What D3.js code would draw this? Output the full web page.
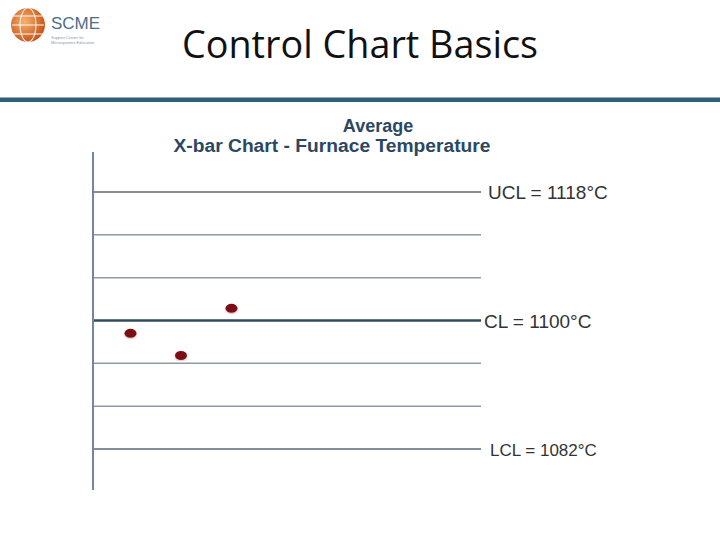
<!DOCTYPE html>
<html>
  <head>
    <meta charset="utf-8">
    <title>Control Chart Basics</title>
    <style>
      html, body { margin: 0; padding: 0; background: #fff; }
      svg { display: block; }
    </style>
  </head>
  <body>
    <svg id="chart" width="720" height="540"></svg>
    <script src="https://d3js.org/d3.v7.min.js"></script>
    <script>
      // control limits and grid (°C)
      var limitNames = ['UCL', 'CL', 'LCL'];
      var limitValues = [1118, 1100, 1082];
      var gridValues = [1118, 1112, 1106, 1100, 1094, 1088, 1082];
      // sample averages
      var samples = [1, 2, 3];
      var averages = [1098.2, 1095.1, 1101.7];

      const svg = d3.select('#chart')

      // header
      const logo = svg.append('g').attr('transform', 'translate(28,25)')
      const grad = svg.append('defs').append('radialGradient')
        .attr('id', 'globe').attr('cx', '40%').attr('cy', '40%').attr('r', '60%')
      grad.append('stop').attr('offset', '0%').attr('stop-color', '#f6b26b')
      grad.append('stop').attr('offset', '100%').attr('stop-color', '#c8571c')
      logo.append('circle').attr('r', 17).attr('fill', 'url(#globe)')
      logo.append('ellipse').attr('rx', 8).attr('ry', 17)
        .attr('fill', 'none').attr('stroke', '#fff').attr('stroke-width', 1.2).attr('opacity', 0.8)
      ;[-9, 0, 9].forEach(d => {
        logo.append('line').attr('x1', -16).attr('x2', 16).attr('y1', d).attr('y2', d)
          .attr('stroke', '#fff').attr('stroke-width', 1.2).attr('opacity', 0.8)
      })
      svg.append('text').attr('x', 51).attr('y', 29)
        .style('font-family', 'Liberation Sans, Arial, sans-serif')
        .style('font-size', '17px').attr('fill', '#4d6d8d').text('SCME')
      svg.append('text').attr('x', 51).attr('y', 39)
        .style('font-family', 'Liberation Sans, Arial, sans-serif')
        .style('font-size', '4px').attr('fill', '#8a9aaa').text('Support Center for')
      svg.append('text').attr('x', 51).attr('y', 44)
        .style('font-family', 'Liberation Sans, Arial, sans-serif')
        .style('font-size', '4px').attr('fill', '#8a9aaa').text('Microsystems Education')

      svg.append('text').attr('x', 360).attr('y', 58)
        .attr('text-anchor', 'middle')
        .attr('textLength', 356).attr('lengthAdjust', 'spacingAndGlyphs')
        .style('font-family', 'Open Sans, sans-serif')
        .style('font-size', '38px').attr('fill', '#111')
        .text('Control Chart Basics')

      svg.append('rect').attr('x', 0).attr('y', 97.5).attr('width', 720).attr('height', 4.5)
        .attr('fill', '#2e5e78')

      // chart titles
      svg.append('text').attr('x', 378).attr('y', 132)
        .attr('text-anchor', 'middle')
        .style('font-family', 'Liberation Sans, Arial, sans-serif')
        .style('font-weight', 'bold').style('font-size', '18px').attr('fill', '#2b4762')
        .text('Average')
      svg.append('text').attr('x', 332).attr('y', 152)
        .attr('text-anchor', 'middle')
        .attr('textLength', 317).attr('lengthAdjust', 'spacingAndGlyphs')
        .style('font-family', 'Liberation Sans, Arial, sans-serif')
        .style('font-weight', 'bold').style('font-size', '18px').attr('fill', '#2b4762')
        .text('X-bar Chart - Furnace Temperature')

      // scales
      const y = d3.scaleLinear().domain([1082, 1118]).range([449, 192])
      const x = d3.scaleLinear().domain([0, 8]).range([80, 484])
      const left = 93, right = 481

      // grid lines
      svg.selectAll('line.grid').data(gridValues).join('line')
        .attr('class', 'grid')
        .attr('x1', left).attr('x2', right)
        .attr('y1', d => y(d)).attr('y2', d => y(d))
        .attr('stroke', d => d === 1100 ? '#2f4b60' : (limitValues.includes(d) ? '#5d6873' : '#8e9aa6'))
        .attr('stroke-width', d => d === 1100 ? 2.5 : 1.5)

      // axis
      svg.append('line').attr('x1', left).attr('x2', left)
        .attr('y1', 152).attr('y2', 490)
        .attr('stroke', '#7485a0').attr('stroke-width', 2)

      // limit labels
      const labelX = [488, 484, 490]
      const labelSize = [19, 19, 17]
      svg.selectAll('text.limit').data(limitNames).join('text')
        .attr('class', 'limit')
        .attr('x', (d, i) => labelX[i])
        .attr('y', (d, i) => y(limitValues[i]) + 7)
        .style('font-family', 'Liberation Sans, Arial, sans-serif')
        .style('font-size', (d, i) => labelSize[i] + 'px')
        .attr('fill', '#333')
        .text((d, i) => d + ' = ' + limitValues[i] + '°C')

      // points
      svg.append('defs').append('filter').attr('id', 'shadow')
        .append('feDropShadow').attr('dx', 0).attr('dy', 1).attr('stdDeviation', 1)
        .attr('flood-color', '#b06060').attr('flood-opacity', 0.5)
      svg.selectAll('ellipse.pt').data(samples).join('ellipse')
        .attr('class', 'pt')
        .attr('cx', d => x(d))
        .attr('cy', (d, i) => y(averages[i]))
        .attr('rx', 6).attr('ry', 4.5)
        .attr('fill', '#7c0f12')
        .attr('filter', 'url(#shadow)')
    </script>
  </body>
</html>
